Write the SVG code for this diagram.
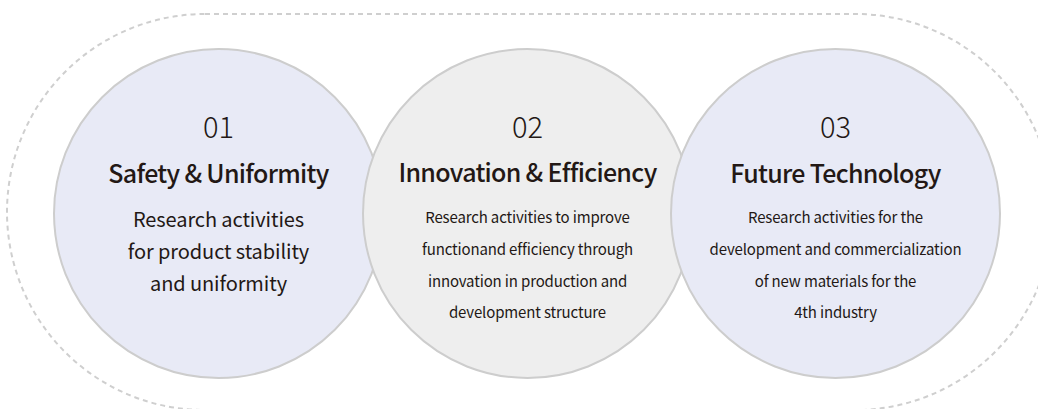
<svg xmlns="http://www.w3.org/2000/svg" width="1038" height="409" viewBox="0 0 1038 409">
<style>
.frame{fill:none;stroke:#cfcfcf;stroke-width:2;stroke-dasharray:5 4}
.c{stroke:#cdcdcd;stroke-width:2}
.blue{fill:#e8eaf6}
.grey{fill:#eeeeee}
text{font-family:"Noto Sans CJK KR","Noto Sans",sans-serif;fill:#231815;text-anchor:middle}
.num{font-size:29px;font-weight:300}
.title{font-size:25px;font-weight:500;letter-spacing:-0.7px}
.big{font-size:20px;font-weight:400;letter-spacing:-0.1px}
.small{font-size:15px;font-weight:400;letter-spacing:-0.15px}
</style>
<rect class="frame" x="7" y="14" width="1046" height="396" rx="198" ry="198"/>
<g id="connectors"></g>
<g id="node1">
<circle class="c blue" cx="218.5" cy="213.5" r="164.5"/>
<text class="num" x="218.5" y="138">01</text>
<text class="title" x="218.5" y="183">Safety &amp; Uniformity</text>
<text class="big" x="218.5" y="227">Research activities</text>
<text class="big" x="218.5" y="259">for product stability</text>
<text class="big" x="218.5" y="291">and uniformity</text>
</g>
<g id="node2">
<circle class="c grey" cx="527.5" cy="213.5" r="164.5"/>
<text class="num" x="527.5" y="138">02</text>
<text class="title" x="527.5" y="182">Innovation &amp; Efficiency</text>
<text class="small" x="527.5" y="223">Research activities to improve</text>
<text class="small" x="527.5" y="255">functionand efficiency through</text>
<text class="small" x="527.5" y="287">innovation in production and</text>
<text class="small" x="527.5" y="318">development structure</text>
</g>
<g id="node3">
<circle class="c blue" cx="835.5" cy="213.5" r="164.5"/>
<text class="num" x="835.5" y="138">03</text>
<text class="title" x="835.5" y="183">Future Technology</text>
<text class="small" x="835.5" y="223">Research activities for the</text>
<text class="small" x="835.5" y="255">development and commercialization</text>
<text class="small" x="835.5" y="287">of new materials for the</text>
<text class="small" x="835.5" y="318">4th industry</text>
</g>
</svg>
